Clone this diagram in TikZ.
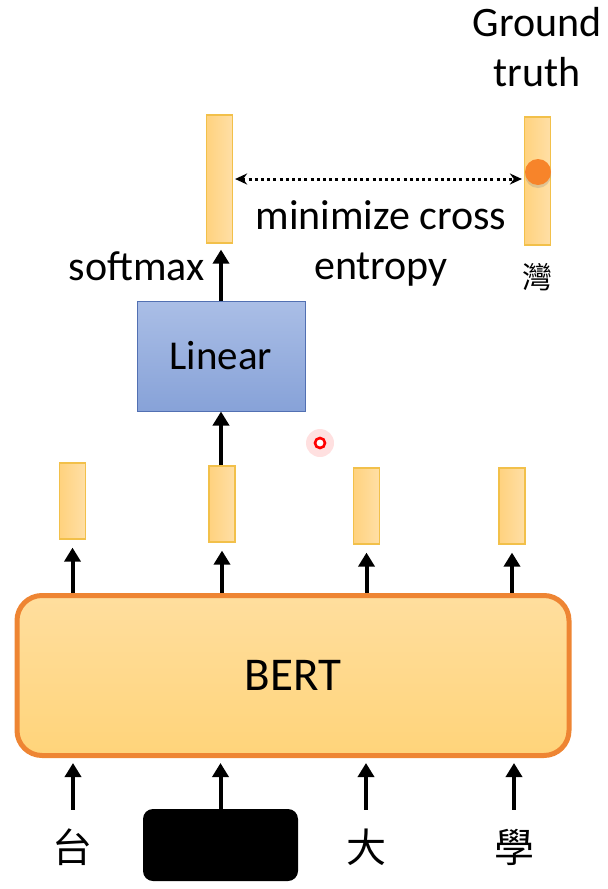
\documentclass[tikz,border=0pt]{standalone}
\usepackage{fontspec}
\setmainfont{Carlito}
\newfontfamily\cjk{Noto Sans CJK TC}
\usetikzlibrary{positioning,calc,arrows.meta,shadows}
\definecolor{barline}{HTML}{F2C04A}
\definecolor{barleft}{HTML}{FFD27E}
\definecolor{barright}{HTML}{FFDFA6}
\definecolor{bertline}{HTML}{EE8533}
\definecolor{berttop}{HTML}{FFDE9E}
\definecolor{bertbot}{HTML}{FFD47A}
\definecolor{lintop}{HTML}{AABEE6}
\definecolor{linbot}{HTML}{87A2D8}
\definecolor{linline}{HTML}{5270B2}
\definecolor{hotdot}{HTML}{F7842A}
\tikzset{
  % output vector: smal oransje stolpe
  vec/.style={draw=barline, line width=.6pt, left color=barleft, right color=barright,
    minimum width=13pt, inner sep=0pt},
  bert/.style={draw=bertline, line width=2.5pt, rounded corners=12.5pt,
    top color=berttop, bottom color=bertbot,
    minimum width=276pt, minimum height=80pt, font=\fontsize{23.5}{28}\selectfont},
  lin/.style={draw=linline, line width=.5pt, top color=lintop, bottom color=linbot,
    minimum width=84pt, minimum height=55pt, font=\fontsize{20.5}{25}\selectfont},
  masked/.style={fill=black, rounded corners=5pt, minimum width=77.5pt, minimum height=36pt},
  lbl/.style={font=\fontsize{21}{25}\selectfont, inner sep=0pt, align=center},
  tok/.style={font=\cjk\fontsize{20}{20}\selectfont, inner xsep=0pt, inner ysep=10pt,
    text height=16pt, text depth=2pt},
  arr/.style={line width=2pt, -{Triangle[length=7pt,width=8pt]}},
  dotarr/.style={line width=1.5pt, dash pattern=on 1.5pt off 1.6pt,
    {Stealth[length=6pt,width=5.5pt]}-{Stealth[length=6pt,width=5.5pt]},
    shorten <=1pt, shorten >=1pt},
}
\newcommand{\vecnode}[4]{%
  \node[vec, minimum height=#4] (#1) at (#2,#3) {};}

\begin{document}
\begin{tikzpicture}[x=0.5pt,y=-0.5pt]
\useasboundingbox (0,0) rectangle (608,889);

% ----- inndata -----
\node[tok] (t1) at (73,848) {台};
\node[masked] (t2) at (220.5,845) {};
\node[tok] (t3) at (366,848) {大};
\node[tok] (t4) at (514,848) {學};

% ----- BERT -----
\node[bert] (bert) at (293,675.5) {BERT};

% ----- skjulte vektorer -----
\vecnode{h1}{72.5}{501}{38pt}
\vecnode{h2}{222}{504}{38pt}
\vecnode{h3}{366.5}{506}{38pt}
\vecnode{h4}{512}{506}{38pt}

% ----- Linear og softmax -----
\node[lin] (lin) at (221,356) {Linear};
\vecnode{out}{219.5}{179}{64pt}
\node[lbl, anchor=base east] (sm) at (205,280) {softmax};

% ----- fasit -----
\vecnode{gt}{537.5}{181}{64pt}
\node[circle, fill=hotdot, minimum size=13pt, inner sep=0pt,
  drop shadow={opacity=.25, shadow xshift=0pt, shadow yshift=-1.5pt}] (hot) at (538,172) {};
\node[lbl] (gtl) at (537,47) {Ground\\truth};
\node[font=\cjk\fontsize{15}{15}\selectfont, inner sep=0pt] (gtc) at (537,277) {灣};
\node[lbl] (ce) at (381,243) {minimize cross\\entropy};

% ----- peker -----
\node[circle, fill=red, fill opacity=.12, minimum size=14pt, inner sep=0pt] (glow) at (320,443) {};
\node[circle, draw=red, line width=1.3pt, fill=white, minimum size=5pt, inner sep=0pt] (ptr) at (320,443) {};

% ----- piler -----
\foreach \t/\h in {t1/h1, t2/h2, t3/h3, t4/h4} {
  \draw[arr, shorten >=2.5pt] (\t.north) -- (\t.north |- bert.south);
  \draw[arr, shorten >=4pt] (bert.north -| \h) -- (\h.south);
}
\draw[arr] (h2.north -| lin.south) -- (lin.south);
\draw[arr, shorten >=3pt] (lin.north) -- (lin.north |- out.south);
\draw[dotarr] (out.east) -- (out.east -| gt.west);

\end{tikzpicture}
\end{document}
